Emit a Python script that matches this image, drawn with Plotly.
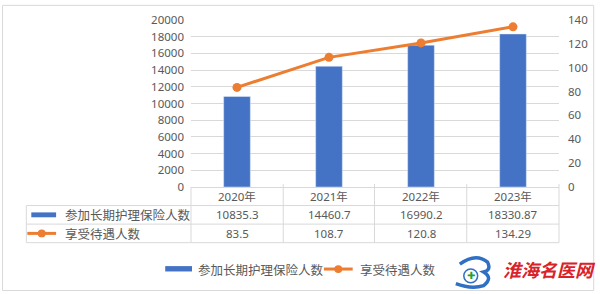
import plotly.graph_objects as go

categories = ["2020年", "2021年", "2022年", "2023年"]
insured = [10835.3, 14460.7, 16990.2, 18330.87]
beneficiaries = [83.5, 108.7, 120.8, 134.29]
insured_labels = ["10835.3", "14460.7", "16990.2", "18330.87"]
benef_labels = ["83.5", "108.7", "120.8", "134.29"]
series_names = ["参加长期护理保险人数", "享受待遇人数"]
left_ticks = list(range(0, 20001, 2000))
right_ticks = list(range(0, 141, 20))

W, H = 600, 294
L, R, T, B = 191, 38, 16, 107
PW, PH = W - L - R, H - T - B
BLUE = "#4472C4"
ORANGE = "#ED7D31"
GRID = "#d9d9d9"
TXT = "#595959"
NUMFONT = "Noto Sans"
CJK = "Noto Sans CJK SC"


def px(x):
    return (x - L) / PW


def py(y):
    return (H - B - y) / PH


fig = go.Figure()
fig.add_trace(go.Bar(x=categories, y=insured, name=series_names[0],
                     marker_color=BLUE, width=0.29, yaxis="y"))
fig.add_trace(go.Scatter(x=categories, y=beneficiaries, name=series_names[1],
                         mode="lines+markers", yaxis="y2",
                         line=dict(color=ORANGE, width=3),
                         marker=dict(color=ORANGE, size=9)))

shapes = []
ann = []
line = dict(color=GRID, width=1)


def text(x, y, s, font, xanchor="center", xref="paper"):
    ann.append(dict(x=x, xref=xref, y=y, yref="paper", text=s, showarrow=False,
                    xanchor=xanchor, yanchor="middle", font=font))


# outer frame
shapes.append(dict(type="rect", xref="paper", yref="paper",
                   x0=px(1), x1=px(597), y0=py(293), y1=py(1), line=line))

# table grid
rows_y = [187, 206, 225, 244]
col_x = [191, 284, 376, 469, 562]
for yy in rows_y[1:]:
    shapes.append(dict(type="line", xref="paper", yref="paper",
                       x0=px(25), x1=px(562), y0=py(yy), y1=py(yy), line=line))
for xx in col_x:
    shapes.append(dict(type="line", xref="paper", yref="paper",
                       x0=px(xx), x1=px(xx), y0=py(184 if xx != 191 else 187), y1=py(244), line=line))
shapes.append(dict(type="line", xref="paper", yref="paper",
                   x0=px(25), x1=px(25), y0=py(206), y1=py(244), line=line))

numf = dict(family=NUMFONT, size=11.5, color=TXT)
hdrf = dict(family=f"{NUMFONT}, {CJK}", size=11.5, color=TXT)
cjkf = dict(family=CJK, size=12.5, color=TXT)

# table header and values
for i, c in enumerate(categories):
    text(c, py(196.5), c, hdrf, xref="x")
    text(c, py(215.5), insured_labels[i], numf, xref="x")
    text(c, py(234.5), benef_labels[i], numf, xref="x")

# table legend column
shapes.append(dict(type="rect", xref="paper", yref="paper", x0=px(30), x1=px(55),
                   y0=py(218), y1=py(213), line=dict(width=0), fillcolor=BLUE))
shapes.append(dict(type="line", xref="paper", yref="paper", x0=px(26), x1=px(55),
                   y0=py(234.5), y1=py(234.5), line=dict(color=ORANGE, width=3)))
shapes.append(dict(type="circle", xref="paper", yref="paper", x0=px(36.5), x1=px(44.5),
                   y0=py(238.5), y1=py(230.5), line=dict(width=0), fillcolor=ORANGE))
text(px(62), py(215.5), series_names[0], cjkf, xanchor="left")
text(px(62), py(234.5), series_names[1], cjkf, xanchor="left")

# bottom legend
shapes.append(dict(type="rect", xref="paper", yref="paper", x0=px(165), x1=px(192),
                   y0=py(273.5), y1=py(268), line=dict(width=0), fillcolor=BLUE))
text(px(196), py(271), series_names[0], cjkf, xanchor="left")
shapes.append(dict(type="line", xref="paper", yref="paper", x0=px(325), x1=px(354),
                   y0=py(271), y1=py(271), line=dict(color=ORANGE, width=3)))
shapes.append(dict(type="circle", xref="paper", yref="paper", x0=px(335.5), x1=px(343.5),
                   y0=py(275), y1=py(267), line=dict(width=0), fillcolor=ORANGE))
text(px(359), py(271), series_names[1], cjkf, xanchor="left")

# watermark
shapes.append(dict(type="path", xref="paper", yref="paper",
                   path=f"M {px(462)},{py(266)} Q {px(478)},{py(254)} {px(490)},{py(264)} "
                        f"Q {px(494)},{py(272)} {px(486)},{py(274)} Q {px(496)},{py(280)} {px(486)},{py(288)} "
                        f"Q {px(474)},{py(292)} {px(458)},{py(286)}",
                   line=dict(color="#2f6fc4", width=3.5)))
shapes.append(dict(type="circle", xref="paper", yref="paper", x0=px(466), x1=px(480),
                   y0=py(285), y1=py(271), line=dict(color="#2f6fc4", width=1.5), fillcolor="white"))
text(px(473), py(278), "<b>✚</b>", dict(family="DejaVu Sans", size=10, color="#2a9d3a"))
text(px(552), py(271), "<b><i>淮海名医网</i></b>", dict(family=CJK, size=18, color="#d8232a"))

axfont = dict(family=NUMFONT, size=11.5, color=TXT)
fig.update_layout(
    width=W, height=H, margin=dict(l=L, r=R, t=T, b=B, pad=0),
    paper_bgcolor="white", plot_bgcolor="white", showlegend=False,
    xaxis=dict(type="category", range=[-0.5, 3.5], showticklabels=False, ticks="",
               showgrid=False, showline=True, linecolor=GRID, linewidth=1, fixedrange=True),
    yaxis=dict(range=[0, 20000], tickvals=left_ticks, ticktext=[str(v) for v in left_ticks],
               showgrid=True, gridcolor=GRID,
               gridwidth=1, zeroline=False, tickfont=axfont, ticklabelstandoff=6, ticks=""),
    yaxis2=dict(range=[0, 140], tickvals=right_ticks, ticktext=[str(v) for v in right_ticks],
                overlaying="y", side="right",
                showgrid=False, zeroline=False, tickfont=axfont, ticklabelstandoff=8, ticks=""),
    shapes=shapes, annotations=ann,
)

fig.write_html("out.html")
